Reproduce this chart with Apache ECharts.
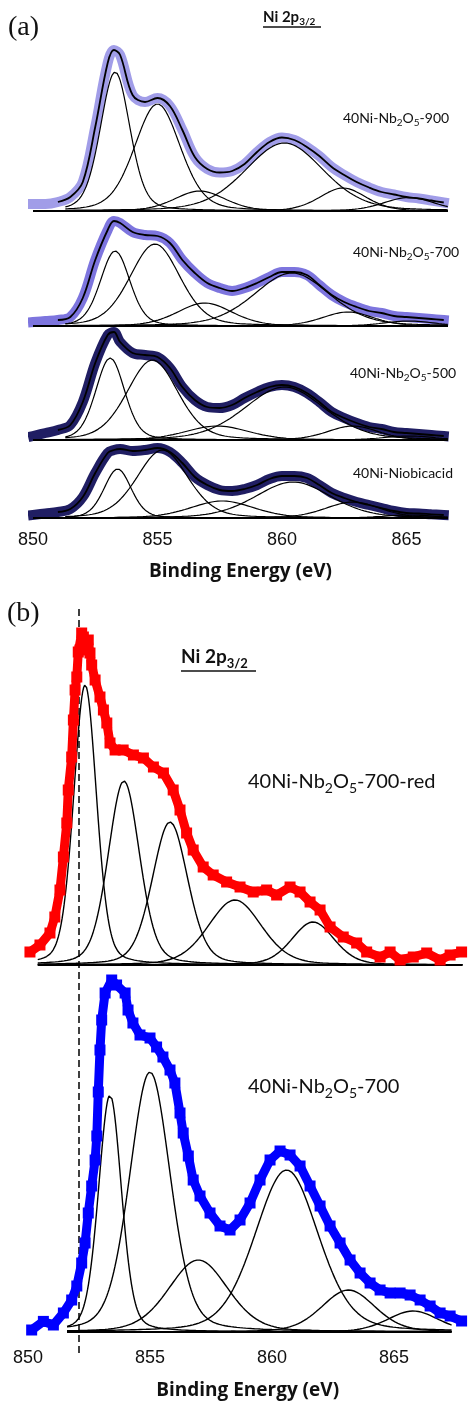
<!DOCTYPE html>
<html>
<head>
<meta charset="utf-8">
<script src="https://cdn.jsdelivr.net/npm/echarts@6/dist/echarts.min.js"></script>
<style>
html, body { margin: 0; padding: 0; background: #fff; }
#chart { width: 472px; height: 1403px; }
</style>
</head>
<body>
<div id="chart"></div>
<script>
// ---- panel (a): binding energy (eV) and intensity above each fit baseline (a.u.)
const energyA = [850, 850.5, 851, 851.5, 852, 852.5, 853, 853.25, 853.5, 854, 854.5, 855, 855.5, 856, 856.5, 857, 857.5, 858, 858.5, 859, 859.5, 860, 860.5, 861, 861.5, 862, 862.5, 863, 863.5, 864, 864.5, 865, 865.5, 866, 866.5];
const int900 = [7, 7, 9, 14, 29, 84, 148, 161, 156, 116, 109, 113, 105, 81, 54, 42, 38.5, 40, 47, 59, 69, 73.5, 71, 64, 55, 44, 36, 29, 23.5, 19, 16.5, 14, 12.5, 10.5, 8.5];
const int700 = [4, 5, 6, 9, 28, 66, 96, 105, 103, 94, 91, 90, 83, 66, 53, 43, 38, 35, 38, 43, 49, 54, 54, 51, 41, 31, 24, 19, 15, 13, 10, 9, 8, 7, 6];
const int500 = [4, 7, 10, 15, 38, 77, 105, 108, 98, 87, 85, 83, 72, 53, 40, 33, 32, 35, 42, 48, 53, 55, 53, 47, 38, 28, 22, 17, 13, 11, 8, 7, 6, 5, 4];
const intNbAcid = [3, 4.5, 6, 9, 21, 45, 65, 68, 69, 67, 68, 70, 66, 55, 41, 33, 28, 27, 29, 33, 39, 42, 42, 40, 33, 25, 20, 16, 13, 10, 7, 5, 4.5, 3.7, 3];
const namesA = ['40Ni-Nb{s|2}O{s|5}-900', '40Ni-Nb{s|2}O{s|5}-700', '40Ni-Nb{s|2}O{s|5}-500', '40Ni-Niobicacid'];

// fitted Ni 2p3/2 components: centre (eV), height, FWHM (eV)
const fitCentersA = [
  [853.3, 855.0, 856.7, 860.1, 862.45, 865.1],
  [853.3, 854.9, 856.9, 860.4, 862.65, 865.1],
  [853.1, 854.8, 857.4, 860.1, 862.85, 865.1],
  [853.4, 855.2, 857.6, 860.45, 862.85, 865.1]
];
const fitHeightsA = [
  [139, 107, 20, 68, 23, 13.5],
  [75, 82, 23, 53, 14, 5],
  [82, 80, 14, 53, 14, 4],
  [49, 68, 17, 36, 16, 3]
];
const fitFwhmA = [
  [1.4, 2.17, 2.4, 3.7, 2.2, 2.4],
  [1.4, 2.37, 2.6, 3.57, 2.4, 2.4],
  [1.37, 2.41, 3.0, 3.8, 2.4, 2.4],
  [1.29, 2.41, 3.0, 3.57, 2.6, 2.4]
];

// ---- panel (b)
const energyRed = [850.08, 850.49, 850.9, 851.1, 851.31, 851.45, 851.59, 851.65, 851.79, 851.86, 851.93, 852.0, 852.06, 852.13, 852.2, 852.27, 852.47, 852.54, 852.61, 852.75, 852.95, 853.09, 853.23, 853.36, 853.57, 853.9, 854.32, 854.73, 855.14, 855.55, 855.95, 856.23, 856.5, 856.77, 857.18, 857.59, 858.14, 858.69, 859.23, 859.78, 860.19, 860.74, 861.15, 861.56, 861.97, 862.38, 862.92, 863.47, 863.88, 864.43, 864.84, 865.25, 865.79, 866.34, 866.89, 867.3, 867.77];
const intRed = [13, 20, 32, 48, 75, 108, 142, 175, 208, 245, 275, 288, 313, 315, 332, 328, 325, 312, 300, 285, 268, 255, 242, 222, 215, 215, 210, 207, 198, 192, 175, 155, 132, 115, 98, 90, 83, 78, 73, 75, 70, 78, 73, 63, 55, 38, 28, 22, 13, 8, 13, 5, 8, 12, 5, 10, 13];
const energyBlue = [850.15, 850.63, 851.04, 851.45, 851.79, 852.0, 852.2, 852.34, 852.47, 852.61, 852.75, 852.82, 852.88, 852.95, 853.02, 853.16, 853.43, 853.63, 853.98, 854.1, 854.3, 854.59, 855.0, 855.27, 855.53, 855.82, 856.02, 856.23, 856.36, 856.57, 856.77, 857.05, 857.46, 857.87, 858.28, 858.69, 859.1, 859.51, 859.92, 860.33, 860.74, 861.15, 861.56, 861.97, 862.38, 862.79, 863.2, 863.61, 864.02, 864.43, 864.84, 865.25, 865.66, 866.07, 866.48, 866.89, 867.3, 867.77];
const intBlue = [2, 10.6, 7, 19, 32, 46, 69, 89, 119, 146, 172, 196, 240, 282, 312, 339, 352, 347, 339, 322, 309, 297, 294, 285, 275, 262, 249, 219, 199, 176, 152, 136, 119, 106, 102, 112, 129, 152, 172, 181, 177, 166, 146, 126, 106, 89, 72, 59, 49, 42, 39, 39, 37, 32, 26, 19, 16, 11];

const fitCenterRed = [852.34, 853.93, 855.82, 858.48, 861.68];
const fitHeightRed = [280, 184, 143, 65, 43];
const fitFwhmRed = [1.11, 1.52, 1.72, 2.58, 2.05];
const fitCenterBlue = [853.36, 855.0, 856.98, 860.6, 863.13, 865.78];
const fitHeightBlue = [237, 260, 72, 162, 42, 21];
const fitFwhmBlue = [1.11, 1.97, 2.87, 3.07, 2.58, 2.46];

const baseRangeA = [850, 866.67];
const baseRangeRed = [850.4, 867.8];
const baseRangeBlue = [851.6, 867.36];
const refLineEV = 852.1;
const tickLabels = ['850', '855', '860', '865'];

const colorsA = ['#a19de8', '#7d75de', '#201e63', '#201e63'];
const lorentzMix = 0.25; // share of lorentzian in the fitted line shape

function pts(xs, ys) { return xs.map((x, i) => [x, ys[i]]); }
// fitted component = gaussian-lorentzian product of the parameters read above
function peak(c, h, w, lo, hi) {
  const out = [];
  for (let x = lo; x <= hi + 1e-9; x += 0.04) {
    const d2 = (x - c) * (x - c) / (w * w);
    const g = Math.exp(-4 * Math.LN2 * d2);
    const l = 1 / (1 + 4 * d2);
    out.push([x, h * ((1 - lorentzMix) * g + lorentzMix * l)]);
  }
  return out;
}

// grids: [top, height] ; 1 intensity unit = 1 px
const gridsA = [[30, 181], [206, 120], [320, 120], [428, 90]];
const gridsB = [[620, 345], [972, 360]];

const axisName = { fontSize: 19, fontWeight: 'bold', fontFamily: 'Open Sans', color: '#111' };
const grid = [], xAxis = [], yAxis = [], series = [];
gridsA.forEach((g, i) => {
  grid.push({ left: 33, width: 415, top: g[0], height: g[1] });
  xAxis.push({
    gridIndex: i, type: 'value', min: 850, max: 866.67, interval: 5,
    axisLine: { show: false }, axisTick: { show: false }, splitLine: { show: false },
    axisLabel: { show: i === 3, margin: 13, fontSize: 18, color: '#111', fontFamily: 'Liberation Sans',
      formatter: v => tickLabels.indexOf(String(v)) >= 0 ? String(v) : '' },
    name: i === 3 ? 'Binding Energy (eV)' : '', nameLocation: 'middle', nameGap: 44,
    nameTextStyle: axisName
  });
  yAxis.push({ gridIndex: i, type: 'value', min: 0, max: g[1], show: false });
});
gridsB.forEach((g, j) => {
  const i = j + 4;
  grid.push({ left: 28, width: 439.2, top: g[0], height: g[1] });
  xAxis.push({
    gridIndex: i, type: 'value', min: 850, max: 868, interval: 5,
    axisLine: { show: false }, axisTick: { show: false }, splitLine: { show: false },
    axisLabel: { show: j === 1, margin: 17, fontSize: 18, color: '#111', fontFamily: 'Liberation Sans',
      formatter: v => tickLabels.indexOf(String(v)) >= 0 ? String(v) : '' },
    name: j === 1 ? 'Binding Energy (eV)' : '', nameLocation: 'middle', nameGap: 49,
    nameTextStyle: axisName
  });
  yAxis.push({ gridIndex: i, type: 'value', min: 0, max: g[1], show: false });
});
// grid for the dashed reference line spanning both (b) spectra
grid.push({ left: 28, width: 439.2, top: 605, height: 748 });
xAxis.push({ gridIndex: 6, type: 'value', min: 850, max: 868, show: false });
yAxis.push({ gridIndex: 6, type: 'value', min: 0, max: 1, show: false });

function lineS(idx, data, opt) {
  return Object.assign({
    type: 'line', xAxisIndex: idx, yAxisIndex: idx, data: data, symbol: 'none',
    silent: true, clip: false, animation: false
  }, opt);
}

const intA = [int900, int700, int500, intNbAcid];
intA.forEach((vals, i) => {
  series.push(lineS(i, pts(energyA, vals), { smooth: 0.35, z: 1,
    lineStyle: { width: 10, color: colorsA[i], cap: 'square' } }));
  fitCentersA[i].forEach((c, k) => {
    series.push(lineS(i, peak(c, fitHeightsA[i][k], fitFwhmA[i][k], 851.3, baseRangeA[1]),
      { z: 2, lineStyle: { width: 1.2, color: '#000' } }));
  });
  series.push(lineS(i, pts(energyA.slice(2), vals.slice(2)), { smooth: 0.35, z: 3,
    lineStyle: { width: 1.8, color: '#000' } }));
  series.push(lineS(i, [[baseRangeA[0], 0], [baseRangeA[1], 0]], { z: 3,
    lineStyle: { width: 2, color: '#000' } }));
});

const specB = [
  { e: energyRed, v: intRed, c: fitCenterRed, h: fitHeightRed, w: fitFwhmRed, r: baseRangeRed, col: '#ff0000' },
  { e: energyBlue, v: intBlue, c: fitCenterBlue, h: fitHeightBlue, w: fitFwhmBlue, r: baseRangeBlue, col: '#0000ff' }
];
specB.forEach((s, j) => {
  const i = j + 4;
  series.push(lineS(i, [[s.r[0], 0], [s.r[1], 0]], { z: 2, lineStyle: { width: 1.8, color: '#000' } }));
  s.c.forEach((c, k) => {
    series.push(lineS(i, peak(c, s.h[k], s.w[k], s.r[0], s.r[1]),
      { z: 2, lineStyle: { width: 1.4, color: '#000' } }));
  });
  series.push(lineS(i, pts(s.e, s.v), { smooth: 0.3, z: 3, lineStyle: { width: 2.5, color: '#000' } }));
  series.push(lineS(i, pts(s.e, s.v), { z: 5, symbol: 'rect', symbolSize: 11, showSymbol: true,
    itemStyle: { color: s.col }, lineStyle: { width: 9, color: s.col } }));
});

series.push(lineS(6, [[refLineEV, 0]], {
  markLine: { silent: true, symbol: 'none', label: { show: false }, animation: false,
    lineStyle: { type: [7, 4], color: '#000', width: 1.5 }, data: [{ xAxis: refLineEV }] }
}));

const sub = (fs) => ({ fontSize: fs, fontFamily: 'Lato', verticalAlign: 'bottom', lineHeight: fs, fill: '#111' });
const subB = (fs) => ({ fontSize: fs, fontFamily: 'Lato', fontWeight: 'bold', verticalAlign: 'bottom', lineHeight: fs, fill: '#111' });

const labelPosA = [[343, 118], [353, 252], [350, 373], [353, 473]];
const graphic = [
  { type: 'text', x: 8, y: 28, style: { text: '(a)', fontSize: 28, fontFamily: 'Liberation Serif', fill: '#111', verticalAlign: 'middle' } },
  { type: 'text', x: 7, y: 614, style: { text: '(b)', fontSize: 28, fontFamily: 'Liberation Serif', fill: '#111', verticalAlign: 'middle' } },
  { type: 'text', x: 263, y: 17, style: { text: 'Ni 2p{s|3/2}', fontSize: 15, fontWeight: 'bold', fontFamily: 'Lato', fill: '#111',
      lineHeight: 20, verticalAlign: 'middle', rich: { s: subB(10) } } },
  { type: 'line', shape: { x1: 263, y1: 27, x2: 321, y2: 27 }, style: { stroke: '#111', lineWidth: 1.3 } },
  { type: 'text', x: 181, y: 657, style: { text: 'Ni 2p{s|3/2}', fontSize: 19, fontWeight: 'bold', fontFamily: 'Lato', fill: '#111',
      lineHeight: 26, verticalAlign: 'middle', rich: { s: subB(13) } } },
  { type: 'line', shape: { x1: 181, y1: 671, x2: 256, y2: 671 }, style: { stroke: '#111', lineWidth: 1.6 } },
  { type: 'text', x: 248, y: 782, style: { text: '40Ni-Nb{s|2}O{s|5}-700-red', fontSize: 20, fontFamily: 'Lato', fill: '#111',
      lineHeight: 26, verticalAlign: 'middle', rich: { s: sub(14) } } },
  { type: 'text', x: 248, y: 1087, style: { text: '40Ni-Nb{s|2}O{s|5}-700', fontSize: 20, fontFamily: 'Lato', fill: '#111',
      lineHeight: 26, verticalAlign: 'middle', rich: { s: sub(14) } } }
];
namesA.forEach((n, i) => {
  graphic.push({ type: 'text', x: labelPosA[i][0], y: labelPosA[i][1], style: { text: n, fontSize: 14, fontFamily: 'Lato', fill: '#111',
    lineHeight: 19, verticalAlign: 'middle', rich: { s: sub(10) } } });
});

const chart = echarts.init(document.getElementById('chart'));
chart.setOption({
  animation: false,
  backgroundColor: '#fff',
  grid: grid, xAxis: xAxis, yAxis: yAxis, series: series, graphic: graphic
});
</script>
</body>
</html>
